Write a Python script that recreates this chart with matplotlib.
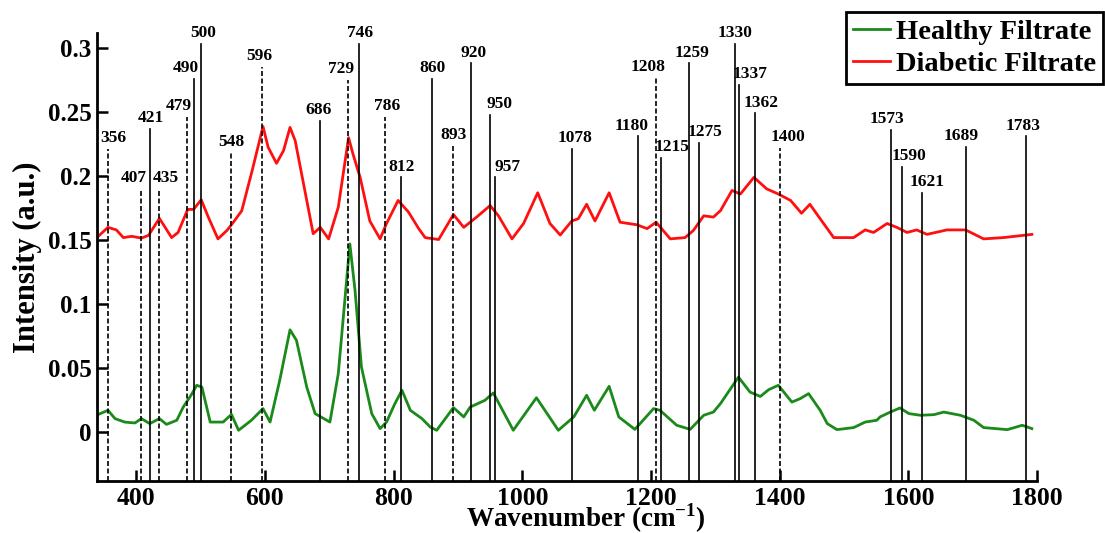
import matplotlib
matplotlib.use("Agg")
import matplotlib.pyplot as plt
import numpy as np

plt.rcParams['font.family'] = ['Liberation Serif', 'DejaVu Serif']
plt.rcParams['font.weight'] = 'bold'
plt.rcParams['mathtext.fontset'] = 'custom'
plt.rcParams['mathtext.bf'] = 'Liberation Serif:bold'

# diabetic filtrate spectrum (offset), wavenumber / intensity
diab_wn = [341, 356, 369, 380, 393, 408, 419, 436, 455, 465, 480, 489, 501, 512,
           527, 541, 551, 564, 580, 597, 605, 618, 629, 639, 647, 662, 675, 686,
           699, 714, 730, 737, 748, 763, 779, 789, 807, 823, 839, 849, 870, 893,
           909, 929, 950, 963, 984, 1002, 1024, 1043, 1059, 1077, 1087, 1100,
           1113, 1135, 1152, 1178, 1194, 1208, 1230, 1253, 1266, 1282, 1297,
           1308, 1326, 1339, 1360, 1380, 1398, 1417, 1434, 1447, 1463, 1484,
           1515, 1533, 1546, 1567, 1582, 1598, 1613, 1629, 1660, 1689, 1717,
           1748, 1792]
diab_int = [0.153, 0.160, 0.158, 0.152, 0.153, 0.1516, 0.1537, 0.167, 0.152,
            0.156, 0.174, 0.174, 0.1815, 0.168, 0.151, 0.1576, 0.164, 0.173,
            0.204, 0.2387, 0.2225, 0.210, 0.220, 0.238, 0.2277, 0.1888, 0.155,
            0.160, 0.151, 0.1757, 0.230, 0.217, 0.199, 0.165, 0.151, 0.163,
            0.181, 0.172, 0.159, 0.152, 0.1505, 0.170, 0.160, 0.168, 0.177,
            0.169, 0.151, 0.163, 0.187, 0.163, 0.154, 0.165, 0.1667, 0.178,
            0.165, 0.187, 0.164, 0.162, 0.159, 0.164, 0.151, 0.152, 0.1576,
            0.169, 0.168, 0.173, 0.1888, 0.186, 0.199, 0.190, 0.186, 0.181,
            0.171, 0.178, 0.1667, 0.152, 0.152, 0.158, 0.156, 0.163, 0.160,
            0.156, 0.158, 0.1545, 0.158, 0.158, 0.151, 0.152, 0.1545]

# healthy filtrate spectrum
heal_wn = [338, 356, 367, 382, 398, 408, 421, 436, 447, 463, 473, 486, 494, 502,
           515, 535, 548, 559, 579, 597, 608, 623, 639, 649, 665, 678, 701, 714,
           732, 740, 750, 766, 779, 789, 802, 813, 826, 844, 857, 867, 893, 909,
           919, 942, 955, 986, 1022, 1056, 1080, 1100, 1112, 1135, 1150, 1175,
           1204, 1214, 1240, 1261, 1282, 1297, 1308, 1336, 1354, 1370, 1383,
           1398, 1419, 1432, 1445, 1463, 1474, 1489, 1515, 1533, 1551, 1556,
           1572, 1587, 1601, 1619, 1640, 1655, 1681, 1702, 1717, 1754, 1777,
           1792]
heal_int = [0.0133, 0.0172, 0.0107, 0.008, 0.0073, 0.0107, 0.0068, 0.0107,
            0.0062, 0.0094, 0.0197, 0.0296, 0.0367, 0.0353, 0.008, 0.008, 0.014,
            0.0016, 0.0094, 0.0185, 0.008, 0.0406, 0.080, 0.0718, 0.0353,
            0.0146, 0.008, 0.0458, 0.147, 0.111, 0.051, 0.0146, 0.0029, 0.008,
            0.0224, 0.0328, 0.0172, 0.0107, 0.0041, 0.0016, 0.0193, 0.012,
            0.0197, 0.025, 0.0307, 0.0016, 0.027, 0.0016, 0.012, 0.0289, 0.0172,
            0.0359, 0.012, 0.0023, 0.0185, 0.0172, 0.0055, 0.0023, 0.0133,
            0.0158, 0.0224, 0.0431, 0.0314, 0.028, 0.0333, 0.0367, 0.0236,
            0.0263, 0.0302, 0.0172, 0.0068, 0.0021, 0.0037, 0.008, 0.0094,
            0.012, 0.0158, 0.019, 0.0146, 0.0133, 0.0138, 0.0158, 0.0133,
            0.0094, 0.0037, 0.0021, 0.0055, 0.0029]

# assigned Raman bands, marker heights and dashed/solid
bands = [356, 407, 421, 435, 479, 490, 500, 548, 596, 686, 729, 746, 786, 812,
         860, 893, 920, 950, 957, 1078, 1180, 1208, 1215, 1259, 1275, 1330,
         1337, 1362, 1400, 1573, 1590, 1621, 1689, 1783]
band_top = [0.2215, 0.190, 0.237, 0.190, 0.246, 0.276, 0.303, 0.218, 0.285,
            0.243, 0.275, 0.303, 0.246, 0.199, 0.276, 0.224, 0.288, 0.248,
            0.199, 0.221, 0.231, 0.277, 0.214, 0.288, 0.226, 0.303, 0.271,
            0.249, 0.222, 0.236, 0.207, 0.187, 0.223, 0.231]
dashed = [356, 407, 435, 479, 548, 596, 729, 786, 893, 1208, 1400]

# horizontal nudge of each band label (points)
label_dx = [4, -5, 1, 5, -6, -6, 2, 0, -2, -1, -5, 1, 2, 0, 0, 0, 2, 7, 9,
            2, -5, -6, 8, 2, 4, 0, 8, 4, 6, -3, 5, 4, -3, -2]

fig = plt.figure(figsize=(11.05, 5.33), dpi=100)
ax = fig.add_axes([97/1105, 1-481/533, (1037-97)/1105, (481-33)/533])

ax.plot(heal_wn, heal_int, color='#1a8a1a', lw=2.0, label='Healthy Filtrate', zorder=2)
ax.plot(diab_wn, diab_int, color='#ff1010', lw=2.0, label='Diabetic Filtrate', zorder=2)

ymin = -0.038
for b, top, dx in zip(bands, band_top, label_dx):
    ls = (0, (3, 1.5)) if b in dashed else '-'
    ax.plot([b, b], [ymin, top], color='black', lw=1.2, ls=ls, zorder=3, clip_on=False)
    ax.annotate(str(b), (b, top), xytext=(dx, 2), textcoords='offset points',
                ha='center', va='bottom', fontsize=12.5, fontweight='bold',
                annotation_clip=False)

ax.set_xlim(339, 1800)
ax.set_ylim(ymin, 0.3117)
ax.set_xticks([400, 600, 800, 1000, 1200, 1400, 1600, 1800])
ax.set_yticks([0, 0.05, 0.1, 0.15, 0.2, 0.25, 0.3])
ax.set_yticklabels(['0', '0.05', '0.1', '0.15', '0.2', '0.25', '0.3'])
ax.tick_params(axis='both', direction='in', length=8, width=1.8)
ax.tick_params(axis='x', labelsize=18.5, pad=4)
ax.tick_params(axis='y', labelsize=18, pad=4)
for s in ['top', 'right']:
    ax.spines[s].set_visible(False)
for s in ['left', 'bottom']:
    ax.spines[s].set_linewidth(2)

ax.set_xlabel(r'Wavenumber (cm$^{\mathbf{-1}}$)', fontsize=19.5, fontweight='bold')
ax.xaxis.label.set_va('baseline')
ax.xaxis.set_label_coords(0.52, -0.102)
ax.set_ylabel('Intensity (a.u.)', fontsize=22, fontweight='bold', labelpad=4)

leg = fig.legend(loc='upper right', bbox_to_anchor=(1103/1105, 1-12/533),
                 fontsize=20.5, frameon=True, fancybox=False, framealpha=1,
                 edgecolor='black', handlelength=1.3, handletextpad=0.2,
                 borderpad=0.25, labelspacing=0.2, borderaxespad=0)
leg.get_frame().set_linewidth(2)

fig.savefig('out.png', dpi=100)
